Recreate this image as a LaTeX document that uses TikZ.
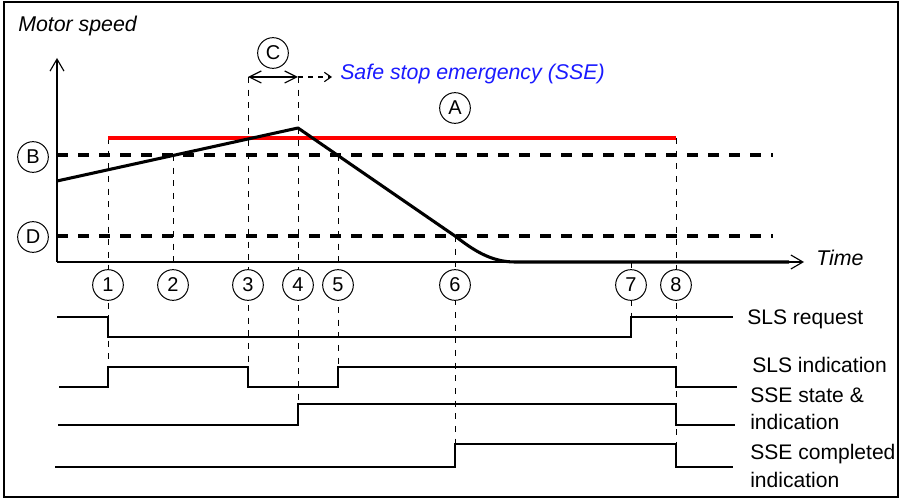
\documentclass[tikz,border=0pt]{standalone}
\usepackage{fontspec}
\setmainfont{Liberation Sans}
\usepackage{tikz}
\usetikzlibrary{arrows.meta, positioning}
\definecolor{cLimit}{HTML}{FF0000}
\definecolor{cNote} {HTML}{1A1AFF}

\begin{document}
\begin{tikzpicture}[x=0.75pt, y=-0.75pt,
    txt/.style={font=\fontsize{15.8}{20.5}\selectfont, inner sep=0pt, align=left},
    tag/.style={circle, draw, line width=0.75pt, minimum size=23pt, inner sep=0pt,
                fill=white, font=\fontsize{15}{15}\selectfont},
    guide/.style={line width=0.75pt, dash pattern=on 4.5pt off 5pt},
    level/.style={line width=2.6pt, dash pattern=on 8.25pt off 7.5pt},
    trace/.style={line width=1.2pt},
    axis/.style={line width=0.85pt, arrows={-Straight Barb[length=9pt, width=10.5pt]}},
    span/.style={line width=0.85pt, arrows={Straight Barb[length=9pt, width=9pt]-Straight Barb[length=9pt, width=9pt]}},
    cue/.style={line width=0.85pt, dash pattern=on 4pt off 3.5pt,
                arrows={-Straight Barb[length=5pt, width=7pt]}},
  ]
  \useasboundingbox (0,0) rectangle (901,499);
  \draw[line width=1.3pt] (4,2) rectangle (898,497);

  % time guides: x / top / bottom
  \foreach \x/\top/\bot in {108/138/367, 173/155/285, 248/77/367, 298/77/404,
                            338/155/367, 455/236/444, 631/262/317, 676/138/444}{
    \draw[guide] (\x,\top) -- (\x,\bot);
  }

  % speed limits
  \draw[cLimit, line width=2.6pt] (108,138) -- (676,138);
  \draw[level] (57,155) -- (773,155);
  \draw[level] (57,236) -- (773,236);

  % axes
  \coordinate (o) at (57,262);
  \draw[axis] (o) -- (57,58);
  \draw[axis] (o) -- (804,262);
  \node[txt, anchor=base west, font=\fontsize{16}{20}\selectfont\itshape] (ylab) at (18,32) {Motor speed};
  \node[txt, anchor=base west, font=\fontsize{16}{20}\selectfont\itshape] (tlab) at (816,266) {Time};

  % motor speed
  \draw[line width=2.3pt, line join=round] (57,181) -- (298,128) -- (455,236)
      .. controls (472,249) and (490,262) .. (515,262) -- (789,262);

  % monitoring window (C) and SSE trigger
  \coordinate (c3) at (248,77);
  \coordinate (c4) at (298,77);
  \draw[span] (c3) -- (c4);
  \node[txt, anchor=base west, text=cNote, font=\fontsize{16}{20}\selectfont\itshape]
      (sse) at (340,80) {Safe stop emergency (SSE)};
  \draw[cue, shorten >=6pt] (c4) -- (sse.west |- c4);

  % letter tags
  \node[tag] (tagA) at (455,108) {A};
  \node[tag] (tagB) at (33,157) {B};
  \node[tag] (tagC) at (273,53) {C};
  \node[tag] (tagD) at (33,237) {D};

  % numbered instants
  \foreach \i/\x in {1/108, 2/173, 3/248, 4/298, 5/338, 6/455, 7/631, 8/676}{
    \node[tag] (t\i) at (\x,285) {\i};
  }

  % signal traces
  \draw[trace] (57,317) -| (108,337) -| (631,317) -- (733,317);
  \draw[trace] (59,387) -| (108,367) -| (248,387) -| (338,367) -| (676,387) -- (737,387);
  \draw[trace] (58,425) -| (298,404) -| (676,425) -- (735,425);
  \draw[trace] (55,467) -| (455,444) -| (676,467) -- (733,467);

  % base anchor sits on the last line
  \node[txt, anchor=base west] (slsreq) at (747,325) {SLS request};
  \node[txt, anchor=base west] (slsind) at (752,373) {SLS indication};
  \node[txt, anchor=base west] (ssest)  at (750,430) {SSE state \&\\indication};
  \node[txt, anchor=base west] (ssecmp) at (750,487) {SSE completed\\indication};
\end{tikzpicture}
\end{document}
